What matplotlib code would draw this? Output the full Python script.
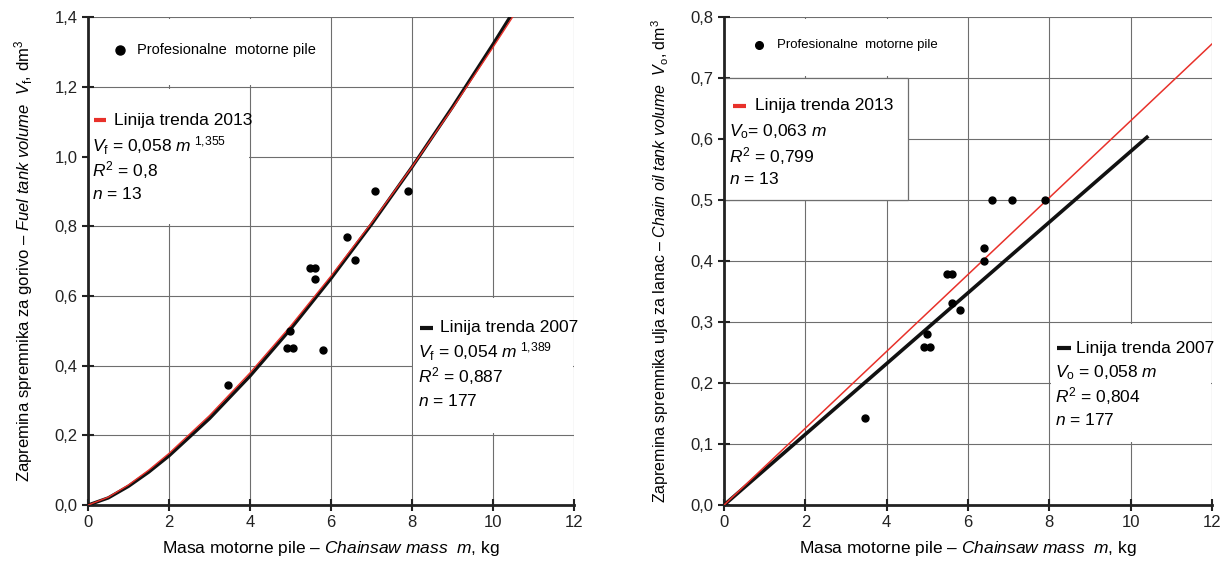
#!/usr/bin/env python
import matplotlib
matplotlib.use("Agg")
import matplotlib.pyplot as plt
from matplotlib.patches import Rectangle

plt.rcParams['font.family'] = ['Liberation Sans', 'DejaVu Sans']
plt.rcParams['mathtext.fontset'] = 'custom'
plt.rcParams['mathtext.rm'] = 'Liberation Sans'
plt.rcParams['mathtext.it'] = 'Liberation Sans:italic'
plt.rcParams['mathtext.bf'] = 'Liberation Sans:bold'

# ---- fuel tank (left) ----
fuel_mass = [3.46, 4.90, 5.07, 4.99, 5.81, 5.48, 5.61, 5.60, 6.39, 6.59, 7.09, 7.91]
fuel_vol = [0.345, 0.45, 0.45, 0.50, 0.445, 0.68, 0.68, 0.648, 0.77, 0.702, 0.90, 0.90]

# trend lines
trend_m = [0, 0.5, 1, 1.5, 2, 3, 4, 5, 6, 7, 8, 9, 10, 10.5]
fuel_trend_2013 = [0, 0.0227, 0.058, 0.1005, 0.1484, 0.257, 0.3795, 0.5135,
                   0.6574, 0.810, 0.9707, 1.1388, 1.3137, 1.4034]
fuel_trend_2007 = [0, 0.0206, 0.054, 0.0948, 0.1414, 0.2484, 0.3704, 0.5050,
                   0.6505, 0.8058, 0.970, 1.1424, 1.3223, 1.4153]

# ---- chain oil tank (right) ----
oil_mass = [6.60, 7.09, 7.89, 6.39, 6.39, 5.49, 5.61, 5.61, 5.80, 5.00, 4.92, 5.07, 3.47]
oil_vol = [0.50, 0.50, 0.50, 0.422, 0.40, 0.379, 0.379, 0.332, 0.319, 0.281, 0.259, 0.259, 0.143]
oil_trend_2013_m = [0, 12]
oil_trend_2013 = [0, 0.756]
oil_trend_2007_m = [0, 10.4]
oil_trend_2007 = [0, 0.603]

x_ticks = [0, 2, 4, 6, 8, 10, 12]
fuel_yticks = [0, 0.2, 0.4, 0.6, 0.8, 1.0, 1.2, 1.4]
fuel_ylabels = ["0,0", "0,2", "0,4", "0,6", "0,8", "1,0", "1,2", "1,4"]
oil_yticks = [0, 0.1, 0.2, 0.3, 0.4, 0.5, 0.6, 0.7, 0.8]
oil_ylabels = ["0,0", "0,1", "0,2", "0,3", "0,4", "0,5", "0,6", "0,7", "0,8"]

GRID = '#6e6e6e'
RED = '#e8312a'
FS = 12.5

fig = plt.figure(figsize=(12.23, 5.72), dpi=100)
ax1 = fig.add_axes([0.072, 0.117, 0.3974, 0.8531])
ax2 = fig.add_axes([0.592, 0.117, 0.399, 0.8531])


def style(ax, yticks, ylabels, ymax):
    ax.set_xlim(0, 12)
    ax.set_ylim(0, ymax)
    ax.set_xticks(x_ticks)
    ax.set_xticklabels([str(t) for t in x_ticks])
    ax.set_yticks(yticks)
    ax.set_yticklabels(ylabels)
    ax.grid(True, color=GRID, lw=0.8, zorder=0)
    ax.set_axisbelow(True)
    for s in ('top', 'right'):
        ax.spines[s].set_visible(False)
    for s in ('left', 'bottom'):
        ax.spines[s].set_linewidth(2)
        ax.spines[s].set_color('#222222')
    ax.tick_params(direction='inout', length=8, width=1.5, labelsize=12, colors='#222222')
    ax.set_xlabel(r"Masa motorne pile – $\mathit{Chainsaw\ mass\ \ m}$, kg", fontsize=12.5, labelpad=6)


def white_box(ax, x0, y0, x1, y1, edge='none'):
    ax.add_patch(Rectangle((x0, y0), x1 - x0, y1 - y0, facecolor='white',
                           edgecolor=edge, lw=0.9, zorder=1))


# left chart
style(ax1, fuel_yticks, fuel_ylabels, 1.4)
white_box(ax1, 0.03, 1.206, 5.9, 1.394)
white_box(ax1, 0.03, 0.806, 3.98, 1.194)
white_box(ax1, 8.03, 0.206, 11.97, 0.594)
ax1.plot(trend_m, fuel_trend_2007, color='#111111', lw=2.4, zorder=3)
ax1.plot(trend_m, fuel_trend_2013, color=RED, lw=1.0, zorder=4)
ax1.plot(fuel_mass, fuel_vol, 'o', color='black', ms=5, zorder=5)
ax1.set_ylabel(r"Zapremina spremnika za gorivo – $\mathit{Fuel\ tank\ volume}$  $V_\mathrm{f}$, dm$^3$",
               fontsize=12, labelpad=14)

ax1.plot([0.8], [1.305], 'o', color='black', ms=6.5, zorder=5)
ax1.text(1.2, 1.305, "Profesionalne  motorne pile", fontsize=10.5, va='center', zorder=6)
ax1.plot([0.15, 0.45], [1.104, 1.104], color=RED, lw=3, solid_capstyle='butt', zorder=6)
ax1.text(0.65, 1.104, "Linija trenda 2013", fontsize=FS, va='center', zorder=6)
ax1.text(0.1, 1.032, r"$V_\mathrm{f}$ = 0,058 $m^{\ 1{,}355}$", fontsize=FS, va='center', zorder=6)
ax1.text(0.1, 0.962, r"$R^2$ = 0,8", fontsize=FS, va='center', zorder=6)
ax1.text(0.1, 0.892, r"$n$ = 13", fontsize=FS, va='center', zorder=6)

ax1.plot([8.2, 8.52], [0.509, 0.509], color='#111111', lw=3, solid_capstyle='butt', zorder=6)
ax1.text(8.68, 0.509, "Linija trenda 2007", fontsize=FS, va='center', zorder=6)
ax1.text(8.15, 0.44, r"$V_\mathrm{f}$ = 0,054 $m^{\ 1{,}389}$", fontsize=FS, va='center', zorder=6)
ax1.text(8.15, 0.369, r"$R^2$ = 0,887", fontsize=FS, va='center', zorder=6)
ax1.text(8.15, 0.298, r"$n$ = 177", fontsize=FS, va='center', zorder=6)

# right chart
style(ax2, oil_yticks, oil_ylabels, 0.8)
white_box(ax2, 0.03, 0.703, 5.9, 0.797)
white_box(ax2, 0.0, 0.5, 4.52, 0.7, edge=GRID)
white_box(ax2, 8.03, 0.103, 11.97, 0.297)
ax2.plot(oil_trend_2007_m, oil_trend_2007, color='#111111', lw=2.6, zorder=3)
ax2.plot(oil_trend_2013_m, oil_trend_2013, color=RED, lw=1.1, zorder=4)
ax2.plot(oil_mass, oil_vol, 'o', color='black', ms=5, zorder=5)
ax2.set_ylabel(r"Zapremina spremnika ulja za lanac – $\mathit{Chain\ oil\ tank\ volume}$  $V_\mathrm{o}$, dm$^3$",
               fontsize=11.5, labelpad=14)

ax2.plot([0.85], [0.754], 'o', color='black', ms=5.5, zorder=5)
ax2.text(1.3, 0.754, "Profesionalne  motorne pile", fontsize=9.5, va='center', zorder=6)
ax2.plot([0.22, 0.55], [0.655, 0.655], color=RED, lw=3, solid_capstyle='butt', zorder=6)
ax2.text(0.75, 0.655, "Linija trenda 2013", fontsize=FS, va='center', zorder=6)
ax2.text(0.12, 0.613, r"$V_\mathrm{o}$= 0,063 $m$", fontsize=FS, va='center', zorder=6)
ax2.text(0.12, 0.573, r"$R^2$ = 0,799", fontsize=FS, va='center', zorder=6)
ax2.text(0.12, 0.534, r"$n$ = 13", fontsize=FS, va='center', zorder=6)

ax2.plot([8.2, 8.53], [0.257, 0.257], color='#111111', lw=3, solid_capstyle='butt', zorder=6)
ax2.text(8.66, 0.257, "Linija trenda 2007", fontsize=FS, va='center', zorder=6)
ax2.text(8.15, 0.217, r"$V_\mathrm{o}$ = 0,058 $m$", fontsize=FS, va='center', zorder=6)
ax2.text(8.15, 0.179, r"$R^2$ = 0,804", fontsize=FS, va='center', zorder=6)
ax2.text(8.15, 0.140, r"$n$ = 177", fontsize=FS, va='center', zorder=6)

fig.savefig('out.png', dpi=100)
